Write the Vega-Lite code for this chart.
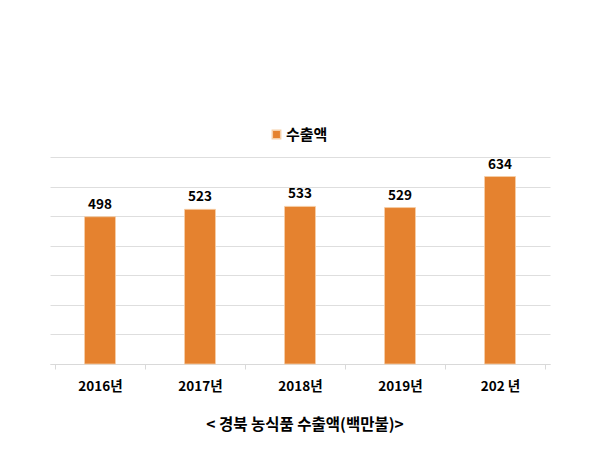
{
  "$schema": "https://vega.github.io/schema/vega-lite/v6.json",
  "autosize": "none",
  "width": 500,
  "height": 207,
  "padding": {"left": 50, "top": 157, "right": 50, "bottom": 86},
  "background": "white",
  "config": {
    "font": "Noto Sans CJK KR",
    "view": {"stroke": null}
  },
  "title": {
    "text": "< 경북 농식품 수출액(백만불)>",
    "orient": "bottom",
    "fontSize": 15.5,
    "fontWeight": "bold",
    "color": "#000000",
    "offset": 25,
    "dx": 5
  },
  "data": {
    "values": [
      {"year": "2016년", "value": 498, "series": "수출액"},
      {"year": "2017년", "value": 523, "series": "수출액"},
      {"year": "2018년", "value": 533, "series": "수출액"},
      {"year": "2019년", "value": 529, "series": "수출액"},
      {"year": "202 년", "value": 634, "series": "수출액"}
    ]
  },
  "encoding": {
    "x": {
      "field": "year",
      "type": "nominal",
      "sort": null,
      "title": null,
      "axis": {
        "labelAngle": 0,
        "labelFontSize": 13.5,
        "labelFontWeight": "bold",
        "labelColor": "#000000",
        "labelPadding": 10,
        "tickBand": "extent",
        "tickSize": 5,
        "tickColor": "#d9d9d9",
        "domainColor": "#d9d9d9",
        "grid": false
      }
    },
    "y": {
      "field": "value",
      "type": "quantitative",
      "title": null,
      "scale": {"domain": [0, 700]},
      "axis": {
        "values": [0, 100, 200, 300, 400, 500, 600, 700],
        "labels": false,
        "ticks": false,
        "domain": false,
        "grid": true,
        "gridColor": "#dedede"
      }
    }
  },
  "layer": [
    {
      "mark": {"type": "bar", "size": 31, "stroke": "#f6cfa8", "strokeWidth": 0.8},
      "encoding": {
        "color": {
          "field": "series",
          "type": "nominal",
          "scale": {"range": ["#E5822F"]},
          "legend": {
            "title": null,
            "orient": "none",
            "legendX": 219,
            "legendY": -30,
            "symbolType": "square",
            "symbolSize": 70,
            "labelFontSize": 15,
            "labelFontWeight": "bold",
            "labelColor": "#000000",
            "labelOffset": 2
          }
        }
      }
    },
    {
      "mark": {"type": "text", "dy": -12, "fontSize": 13.5, "fontWeight": "bold", "color": "#000000"},
      "encoding": {
        "text": {"field": "value", "type": "quantitative"}
      }
    }
  ]
}
